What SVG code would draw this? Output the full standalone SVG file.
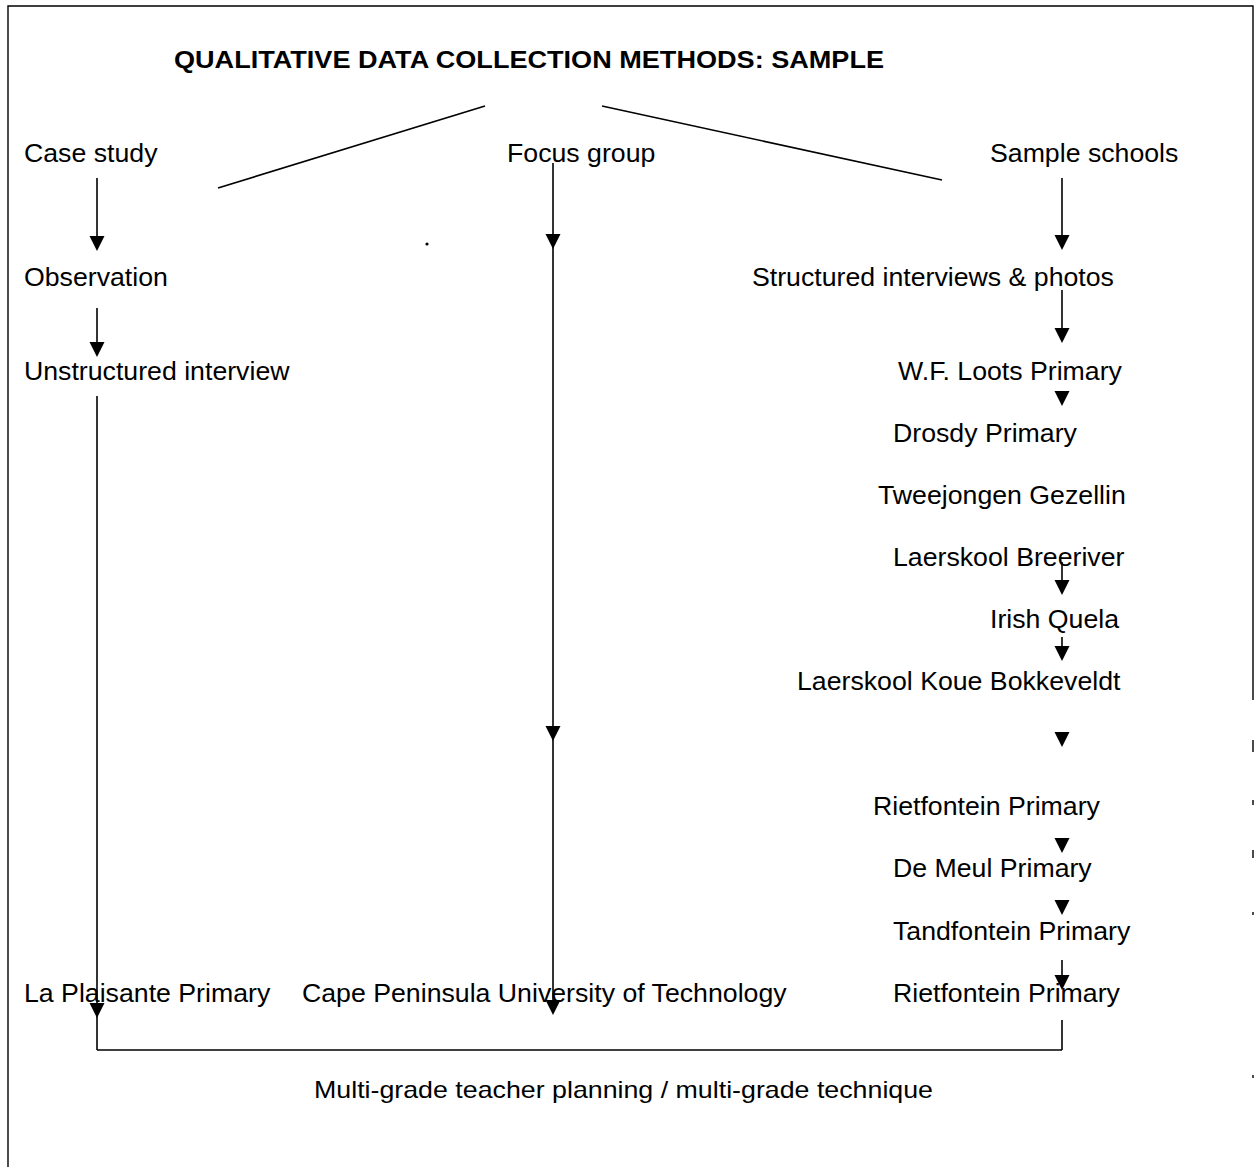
<svg xmlns="http://www.w3.org/2000/svg" width="1255" height="1167" viewBox="0 0 1255 1167">
  <style>
    text { font-family: "Liberation Sans", Arial, sans-serif; font-size: 26.7px; fill: #000; }
    .title { font-weight: bold; font-size: 24px; }
    .foot { font-size: 24px; }
    .ln { stroke: #000; stroke-width: 1.6; fill: none; }
    .frame { stroke: #000; stroke-width: 1.4; fill: none; }
    .head { fill: #000; }
  </style>
  <defs>
    <!-- filled arrowhead, tip at origin -->
    <path id="ah" d="M -7.5 -15 L 7.5 -15 L 0 0 Z"/>
  </defs>

  <rect width="1255" height="1167" fill="#fff"/>

  <!-- page frame -->
  <g id="frame">
    <path class="frame" d="M 8 1167 L 8 6 L 1253 6 L 1253 700"/>
    <path class="frame" d="M 1253 740 L 1253 752 M 1253 800 L 1253 805 M 1253 850 L 1253 858 M 1253 912 L 1253 915 M 1253 1075 L 1253 1078"/>
  </g>

  <g id="title"><text class="title" x="174" y="68" textLength="710" lengthAdjust="spacingAndGlyphs">QUALITATIVE DATA COLLECTION METHODS: SAMPLE</text></g>

  <!-- left branch -->
  <g id="case-study"><text x="24" y="162">Case study</text></g>
  <g id="observation"><text x="24" y="286">Observation</text></g>
  <g id="unstructured-interview"><text x="24" y="380">Unstructured interview</text></g>
  <g id="la-plaisante"><text x="24" y="1002">La Plaisante Primary</text></g>

  <!-- middle branch -->
  <g id="focus-group"><text x="507" y="162">Focus group</text></g>
  <g id="cput"><text x="302" y="1002">Cape Peninsula University of Technology</text></g>

  <!-- right branch -->
  <g id="sample-schools"><text x="990" y="162">Sample schools</text></g>
  <g id="structured-interviews"><text x="752" y="286">Structured interviews &amp; photos</text></g>
  <g id="wf-loots"><text x="898" y="380">W.F. Loots Primary</text></g>
  <g id="drosdy"><text x="893" y="442">Drosdy Primary</text></g>
  <g id="tweejongen"><text x="878" y="504">Tweejongen Gezellin</text></g>
  <g id="breeriver"><text x="893" y="566">Laerskool Breeriver</text></g>
  <g id="irish-quela"><text x="990" y="628">Irish Quela</text></g>
  <g id="koue-bokkeveldt"><text x="797" y="690">Laerskool Koue Bokkeveldt</text></g>
  <g id="rietfontein-1"><text x="873" y="815">Rietfontein Primary</text></g>
  <g id="de-meul"><text x="893" y="877">De Meul Primary</text></g>
  <g id="tandfontein"><text x="893" y="940">Tandfontein Primary</text></g>
  <g id="rietfontein-2"><text x="893" y="1002">Rietfontein Primary</text></g>

  <g id="outcome"><text class="foot" x="314" y="1098" textLength="619" lengthAdjust="spacingAndGlyphs">Multi-grade teacher planning / multi-grade technique</text></g>

  <g id="connectors">
    <!-- title fan-out -->
    <line class="ln" x1="485" y1="106" x2="218" y2="188"/>
    <line class="ln" x1="602" y1="106" x2="942" y2="180"/>

    <!-- left column -->
    <line class="ln" x1="97" y1="178" x2="97" y2="240"/>
    <use href="#ah" class="head" x="97" y="251"/>
    <line class="ln" x1="97" y1="308" x2="97" y2="345"/>
    <use href="#ah" class="head" x="97" y="357"/>
    <line class="ln" x1="97" y1="396" x2="97" y2="1050"/>
    <use href="#ah" class="head" x="97" y="1018"/>

    <!-- middle column -->
    <line class="ln" x1="553" y1="163" x2="553" y2="1012"/>
    <use href="#ah" class="head" x="553" y="249"/>
    <use href="#ah" class="head" x="553" y="741"/>
    <use href="#ah" class="head" x="553" y="1015"/>

    <!-- right column -->
    <line class="ln" x1="1062" y1="178" x2="1062" y2="240"/>
    <use href="#ah" class="head" x="1062" y="250"/>
    <line class="ln" x1="1062" y1="290" x2="1062" y2="333"/>
    <use href="#ah" class="head" x="1062" y="343"/>
    <use href="#ah" class="head" x="1062" y="406"/>
    <line class="ln" x1="1062" y1="562" x2="1062" y2="585"/>
    <use href="#ah" class="head" x="1062" y="595"/>
    <line class="ln" x1="1062" y1="637" x2="1062" y2="652"/>
    <use href="#ah" class="head" x="1062" y="661"/>
    <use href="#ah" class="head" x="1062" y="747"/>
    <use href="#ah" class="head" x="1062" y="853"/>
    <use href="#ah" class="head" x="1062" y="915"/>
    <line class="ln" x1="1062" y1="960" x2="1062" y2="980"/>
    <use href="#ah" class="head" x="1062" y="990"/>
    <line class="ln" x1="1062" y1="1020" x2="1062" y2="1050"/>

    <!-- joining bracket -->
    <line class="ln" x1="97" y1="1050" x2="1062" y2="1050"/>
  </g>

  <!-- stray speck -->
  <circle cx="427" cy="244" r="1.6" fill="#000"/>
</svg>
